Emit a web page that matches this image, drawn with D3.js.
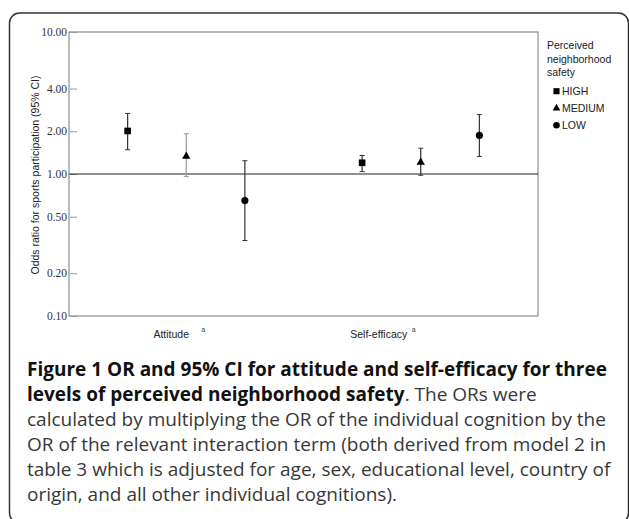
<!DOCTYPE html>
<meta charset="utf-8">
<html>
<head>
<script src="https://cdnjs.cloudflare.com/ajax/libs/d3/7.8.5/d3.min.js"></script>
<style>
  body { margin: 0; background: #fff; }
</style>
</head>
<body>
<div id="chart"></div>
<script>

// categories and series levels
var categories = ["Attitude", "Self-efficacy"];
var levels = ["HIGH", "MEDIUM", "LOW"];

// odds ratios and 95% CI, one row per category, one column per level
var orValues = [[2.01, 1.33, 0.65], [1.20, 1.21, 1.87]];
var ciLow    = [[1.48, 0.96, 0.34], [1.04, 0.98, 1.33]];
var ciHigh   = [[2.67, 1.92, 1.24], [1.35, 1.52, 2.62]];

var yTicks = [0.1, 0.2, 0.5, 1, 2, 4, 10];

var legendTitle = ["Perceived", "neighborhood", "safety"];
var yLabel = "Odds ratio for sports participation (95% CI)";

var captionLines = [
  [{t: "Figure 1 OR and 95% CI for attitude and self-efficacy for three", b: true}],
  [{t: "levels of perceived neighborhood safety", b: true}, {t: ". The ORs were", b: false}],
  [{t: "calculated by multiplying the OR of the individual cognition by the", b: false}],
  [{t: "OR of the relevant interaction term (both derived from model 2 in", b: false}],
  [{t: "table 3 which is adjusted for age, sex, educational level, country of", b: false}],
  [{t: "origin, and all other individual cognitions).", b: false}]
];

var width = 629, height = 519;
var plot = {left: 69, right: 538, top: 32, bottom: 316};
var sans = "Liberation Sans, Arial, sans-serif";

var svg = d3.select("#chart").append("svg")
  .attr("width", width)
  .attr("height", height);

// rounded figure frame
svg.append("rect")
  .attr("x", 9.5).attr("y", 13)
  .attr("width", 619).attr("height", 510)
  .attr("rx", 10).attr("ry", 10)
  .attr("fill", "none")
  .attr("stroke", "#333")
  .attr("stroke-width", 1.5);

var y = d3.scaleLog()
  .domain([0.1, 10])
  .range([plot.bottom, plot.top]);

var x = d3.scaleBand()
  .domain(categories)
  .range([plot.left, plot.right]);

var inner = d3.scalePoint()
  .domain(levels)
  .range([x.bandwidth() * 0.25, x.bandwidth() * 0.75]);

// plot frame
var g = svg.append("g");
g.append("rect")
  .attr("x", plot.left).attr("y", plot.top)
  .attr("width", plot.right - plot.left)
  .attr("height", plot.bottom - plot.top)
  .attr("fill", "none")
  .attr("stroke", "#777")
  .attr("stroke-width", 1);

// y axis, ticks inward
var yAxis = d3.axisLeft(y)
  .tickValues(yTicks)
  .tickFormat(d3.format(".2f"))
  .tickSizeInner(-7)
  .tickSizeOuter(0)
  .tickPadding(10);

var ya = g.append("g")
  .attr("transform", "translate(" + plot.left + ",0)")
  .call(yAxis)
  .attr("font-family", null)
  .attr("font-size", null);
ya.select(".domain").remove();
ya.selectAll(".tick line").attr("stroke", "#999").attr("transform", "translate(1,0)");
ya.selectAll(".tick text")
  .style("font-family", "'Liberation Serif', 'Times New Roman', serif")
  .style("font-size", "11.5px")
  .attr("fill", "#333")
  .attr("x", -2);

// reference line at OR = 1
g.append("line")
  .attr("x1", plot.left).attr("x2", plot.right)
  .attr("y1", y(1)).attr("y2", y(1))
  .attr("stroke", "#222")
  .attr("stroke-width", 1);

// y label
svg.append("text")
  .attr("transform", "translate(38.5," + ((plot.top + plot.bottom) / 2 + 1) + ") rotate(-90)")
  .attr("text-anchor", "middle")
  .attr("font-family", sans)
  .attr("font-size", 10.5)
  .attr("fill", "#222")
  .text(yLabel);

// x category labels with superscript a
var xOffsets = {"Attitude": -15, "Self-efficacy": -42};
var supOffsets = {"Attitude": 17, "Self-efficacy": -7};
categories.forEach(function(c) {
  var cx = x(c) + x.bandwidth() / 2;
  svg.append("text")
    .attr("x", cx + xOffsets[c]).attr("y", 338)
    .attr("text-anchor", "middle")
    .attr("font-family", sans)
    .attr("font-size", 10.5)
    .attr("fill", "#222")
    .text(c);
  svg.append("text")
    .attr("x", cx + supOffsets[c]).attr("y", 332)
    .attr("text-anchor", "middle")
    .attr("font-family", sans)
    .attr("font-size", 7)
    .attr("fill", "#444")
    .text("a");
});

// flatten into points
var points = [];
categories.forEach(function(c, i) {
  levels.forEach(function(l, j) {
    points.push({cat: c, level: l, or: orValues[i][j], lo: ciLow[i][j], hi: ciHigh[i][j]});
  });
});

var symbolType = {HIGH: d3.symbolSquare, MEDIUM: d3.symbolTriangle, LOW: d3.symbolCircle};
var symbolSize = {HIGH: 44, MEDIUM: 30, LOW: 40};

function px(d) { return x(d.cat) + inner(d.level); }
function ciColor(d) { return (d.cat === "Attitude" && d.level === "MEDIUM") ? "#999" : "#333"; }

var pts = g.selectAll(".pt").data(points).enter().append("g").attr("class", "pt");

pts.append("line")
  .attr("x1", px).attr("x2", px)
  .attr("y1", function(d) { return y(d.lo); })
  .attr("y2", function(d) { return y(d.hi); })
  .attr("stroke", ciColor).attr("stroke-width", 1.2);

["lo", "hi"].forEach(function(k) {
  pts.append("line")
    .attr("x1", function(d) { return px(d) - 2.5; })
    .attr("x2", function(d) { return px(d) + 2.5; })
    .attr("y1", function(d) { return y(d[k]); })
    .attr("y2", function(d) { return y(d[k]); })
    .attr("stroke", ciColor).attr("stroke-width", 1);
});

pts.append("path")
  .attr("d", function(d) { return d3.symbol().type(symbolType[d.level]).size(symbolSize[d.level])(); })
  .attr("transform", function(d) { return "translate(" + px(d) + "," + y(d.or) + ")"; })
  .attr("fill", "#000");

// legend
var lg = svg.append("g").attr("transform", "translate(547,0)");
lg.selectAll(".lt").data(legendTitle).enter().append("text")
  .attr("x", 0)
  .attr("y", function(d, i) { return 49 + i * 13.5; })
  .attr("font-family", sans)
  .attr("font-size", 10.5)
  .attr("fill", "#222")
  .text(function(d) { return d; });

var li = lg.selectAll(".li").data(levels).enter().append("g")
  .attr("transform", function(d, i) { return "translate(0," + (95 + i * 17) + ")"; });
li.append("path")
  .attr("d", function(d) { return d3.symbol().type(symbolType[d]).size(symbolSize[d] * 0.85)(); })
  .attr("transform", "translate(9.5,-3.8)")
  .attr("fill", "#000");
li.append("text")
  .attr("x", 15).attr("y", 0)
  .attr("font-family", sans)
  .attr("font-size", 10.5)
  .attr("fill", "#222")
  .text(function(d) { return d; });

// caption
var cap = svg.append("g");
captionLines.forEach(function(line, i) {
  var t = cap.append("text")
    .attr("x", 27)
    .attr("y", 376 + i * 25)
    .attr("font-family", "'Open Sans', sans-serif")
    .attr("font-size", 19)
    .attr("fill", "#222");
  line.forEach(function(s) {
    t.append("tspan")
      .attr("font-weight", s.b ? "bold" : "normal")
      .attr("fill", s.b ? "#111" : "#383838")
      .text(s.t);
  });
});

</script>
</body>
</html>
